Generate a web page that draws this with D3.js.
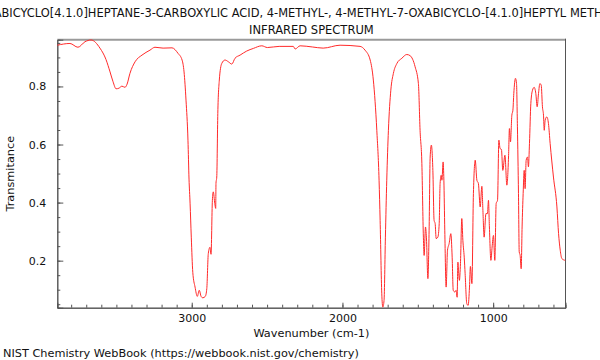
<!DOCTYPE html>
<html><head><meta charset="utf-8">
<script src="https://cdn.jsdelivr.net/npm/d3@7"></script>
<style>body{margin:0;background:#fff}svg{display:block}text{font-family:"DejaVu Sans",sans-serif;fill:#111}</style>
</head><body>
<svg id="c" width="600" height="360"></svg>
<script>
const titleLine1 = "7-OXABICYCLO[4.1.0]HEPTANE-3-CARBOXYLIC ACID, 4-METHYL-, 4-METHYL-7-OXABICYCLO-[4.1.0]HEPTYL METHYL ESTER";
const titleLine2 = "INFRARED SPECTRUM";
const xLabel = "Wavenumber (cm-1)";
const yLabel = "Transmitance";
const footer = "NIST Chemistry WebBook (https://webbook.nist.gov/chemistry)";
const xDomain = [3892, 520];
const yDomain = [0.038, 0.961];
const xTickValues = [3000, 2000, 1000];
const yTickValues = [0.2, 0.4, 0.6, 0.8];

const wavenumber = [3892,3808,3755,3708,3668,3609,3569,3542,3522,3502,3483,3463,3443,3429,3410,3376,3330,3277,3244,3190,3131,3091,3064,3051,3038,3025,3018,3011,3003,2993,2978,2963,2950,2938,2927,2910,2900,2890,2879,2872,2863,2857,2847,2841,2839,2834,2827,2817,2801,2779,2757,2734,2713,2679,2635,2591,2535,2498,2420,2326,2314,2281,2200,2128,2016,1883,1850,1816,1795,1772,1757,1750,1739,1732,1724,1715,1706,1695,1679,1662,1639,1606,1573,1551,1518,1496,1485,1473,1463,1458,1449,1443,1433,1425,1418,1410,1400,1392,1385,1378,1367,1358,1352,1345,1340,1332,1327,1321,1312,1303,1292,1281,1272,1265,1254,1246,1239,1234,1230,1224,1217,1208,1201,1192,1186,1175,1166,1157,1151,1141,1131,1119,1108,1098,1086,1075,1068,1060,1048,1038,1031,1025,1015,1007,998,989,980,971,962,954,945,936,922,909,898,892,885,876,869,863,852,845,839,832,827,821,814,808,801,794,788,781,772,766,759,750,739,728,717,708,699,690,681,673,666,661,655,644,633,622,600,577,566,555,544,522];
const transmittance = [0.942,0.948,0.935,0.954,0.960,0.932,0.893,0.850,0.816,0.792,0.794,0.801,0.797,0.808,0.845,0.885,0.908,0.925,0.935,0.932,0.933,0.914,0.891,0.850,0.753,0.615,0.481,0.398,0.281,0.160,0.109,0.077,0.098,0.077,0.072,0.077,0.104,0.225,0.246,0.222,0.408,0.437,0.397,0.380,0.467,0.488,0.707,0.822,0.879,0.891,0.885,0.877,0.897,0.908,0.922,0.931,0.940,0.934,0.938,0.938,0.929,0.940,0.936,0.932,0.942,0.938,0.925,0.891,0.822,0.649,0.477,0.339,0.086,0.040,0.063,0.281,0.477,0.649,0.787,0.845,0.879,0.897,0.910,0.906,0.868,0.810,0.649,0.534,0.281,0.218,0.316,0.281,0.138,0.305,0.557,0.598,0.511,0.339,0.328,0.276,0.281,0.328,0.466,0.494,0.477,0.540,0.477,0.305,0.109,0.236,0.259,0.293,0.212,0.098,0.092,0.098,0.074,0.195,0.167,0.132,0.190,0.345,0.270,0.212,0.155,0.052,0.046,0.109,0.180,0.121,0.431,0.546,0.477,0.466,0.385,0.456,0.373,0.281,0.362,0.362,0.408,0.316,0.201,0.247,0.287,0.201,0.397,0.408,0.615,0.586,0.583,0.511,0.563,0.460,0.557,0.655,0.609,0.701,0.718,0.776,0.828,0.810,0.661,0.431,0.230,0.218,0.172,0.316,0.431,0.511,0.448,0.546,0.557,0.523,0.604,0.741,0.787,0.797,0.776,0.730,0.776,0.810,0.804,0.730,0.701,0.649,0.684,0.695,0.672,0.604,0.488,0.385,0.293,0.236,0.207,0.201];

const svg = d3.select("#c");
const L = 57.3, R = 565.5, T = 39.7, B = 307.7;
const x = d3.scaleLinear().domain(xDomain).range([L, R]);
const y = d3.scaleLinear().domain(yDomain).range([B, T]);
const cx = (L + R) / 2;

// frame
svg.append("line").attr("x1", L).attr("x2", R).attr("y1", T).attr("y2", T).attr("stroke", "#9a9a9a").attr("stroke-width", 2);
svg.append("line").attr("x1", R).attr("x2", R).attr("y1", T - 1).attr("y2", B).attr("stroke", "#555").attr("stroke-width", 1);

// x axis (ticks inward)
const xMinor = d3.range(3800, 500, -100);
const gx = svg.append("g").attr("transform", `translate(0,${B})`);
gx.call(d3.axisBottom(x).tickValues(xMinor).tickSize(-3).tickFormat(""));
const gx2 = svg.append("g").attr("transform", `translate(0,${B})`);
gx2.call(d3.axisBottom(x).tickValues(xTickValues).tickSize(-5).tickPadding(7).tickFormat(d3.format("d")));
gx2.selectAll("text").attr("font-size", 11).attr("font-family", "DejaVu Sans").attr("fill", "#111");

// y axis
const yMinor = d3.range(0.05, 0.96, 0.05);
const gy = svg.append("g").attr("transform", `translate(${L},0)`);
gy.call(d3.axisLeft(y).tickValues(yMinor).tickSize(-3).tickFormat(""));
const gy2 = svg.append("g").attr("transform", `translate(${L},0)`);
gy2.call(d3.axisLeft(y).tickValues(yTickValues).tickSize(-6).tickPadding(11).tickFormat(d3.format(".1f")));
gy2.selectAll("text").attr("font-size", 11).attr("font-family", "DejaVu Sans").attr("fill", "#111");
svg.selectAll(".domain").attr("stroke", "#555");
svg.selectAll(".tick line").attr("stroke", "#555");

// spectrum
const pts = wavenumber.map((w, i) => [w, transmittance[i]]);
svg.append("path").datum(pts)
  .attr("fill", "none").attr("stroke", "#ff2a2a").attr("stroke-width", 1)
  .attr("d", d3.line().x(d => x(d[0])).y(d => y(d[1])).curve(d3.curveMonotoneX));

// titles
const t1 = svg.append("text").attr("y", 17).attr("font-size", 11.45).text(titleLine1);
const pre = svg.append("text").attr("font-size", 11.45).text("7-OXA");
const preW = pre.node().getComputedTextLength(); pre.remove();
t1.attr("x", 1.5 - preW);
svg.append("text").attr("x", cx).attr("y", 34).attr("text-anchor", "middle").attr("font-size", 11.5).text(titleLine2);
svg.append("text").attr("x", cx).attr("y", 337).attr("text-anchor", "middle").attr("font-size", 11.3).text(xLabel);
svg.append("text").attr("transform", `translate(14,${(T + B) / 2}) rotate(-90)`).attr("text-anchor", "middle").attr("font-size", 11.3).text(yLabel);
svg.append("text").attr("x", 3).attr("y", 357).attr("font-size", 11.3).text(footer);
</script>
</body></html>
